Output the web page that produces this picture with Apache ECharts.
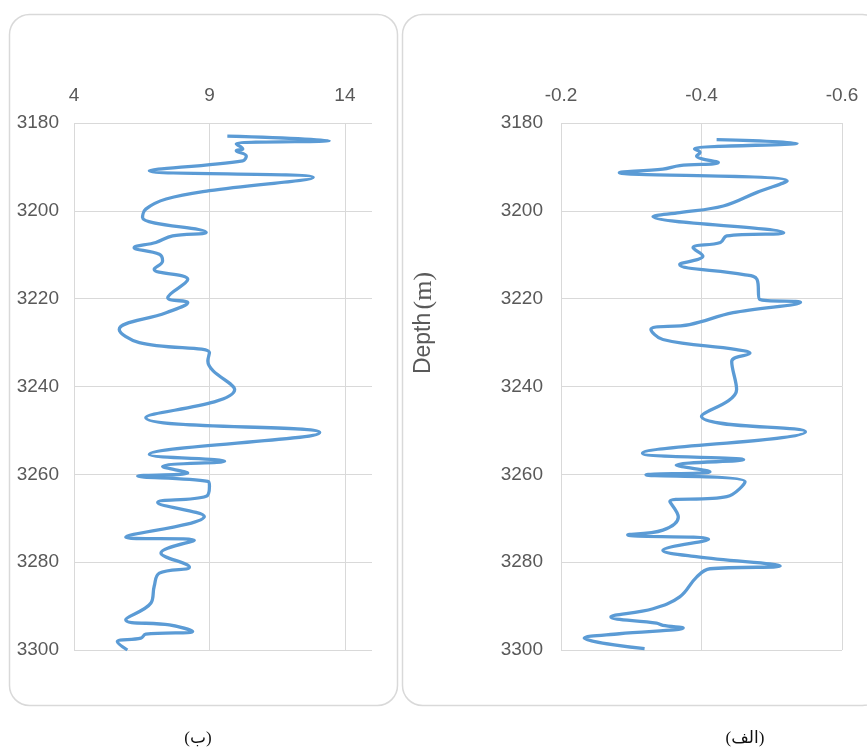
<!DOCTYPE html>
<html>
<head>
<meta charset="utf-8">
<script src="https://cdn.jsdelivr.net/npm/echarts@6/dist/echarts.min.js"></script>
<style>
html,body{margin:0;padding:0;background:#fff;}
#chart{width:867px;height:751px;}
</style>
</head>
<body>
<div id="chart"></div>
<script>
// Panel (ب) — left
var depthB = [3183.0,3184.0,3184.8,3185.9,3186.3,3187.5,3188.6,3190.9,3192.4,3195.4,3197.3,3199.6,3201.5,3204.9,3205.7,3207.2,3208.4,3209.9,3211.4,3213.3,3215.6,3219.8,3220.9,3223.2,3227.0,3230.0,3232.3,3234.2,3240.7,3247.1,3250.5,3255.5,3257.0,3258.2,3259.7,3260.4,3261.6,3262.7,3265.0,3266.4,3269.6,3274.3,3275.0,3277.9,3281.1,3282.5,3285.5,3289.3,3293.1,3294.3,3295.8,3296.4,3297.3,3298.1,3300.0];
var valB   = [9.66,13.42,9.99,10.23,9.99,10.36,10.23,6.78,12.83,9.0,7.40,6.65,6.53,8.88,7.64,7.02,6.22,7.15,7.27,6.96,8.20,7.46,8.20,7.40,5.67,6.41,9.0,8.94,9.93,6.65,13.07,6.78,9.56,7.27,8.20,6.35,8.94,9.0,8.88,7.09,8.81,5.91,8.44,7.21,8.26,7.15,6.96,6.84,5.91,7.52,8.38,6.65,6.47,5.60,5.97];

// Panel (الف) — right
var depthA = [3183.8,3184.6,3185.9,3186.7,3187.5,3189.0,3189.7,3190.5,3191.3,3193.2,3195.8,3198.9,3200.4,3201.3,3205.0,3205.7,3207.2,3208.4,3210.3,3212.2,3214.5,3215.6,3220.2,3220.8,3223.2,3225.9,3227.0,3229.3,3231.6,3232.4,3234.3,3240.7,3246.8,3250.3,3255.2,3256.7,3257.9,3259.4,3260.1,3261.7,3265.1,3266.2,3269.7,3272.7,3273.8,3274.8,3277.3,3278.8,3280.9,3281.5,3283.4,3287.9,3290.6,3292.5,3293.9,3294.4,3295.0,3296.3,3297.3,3299.7];
var valA   = [-0.4215,-0.536,-0.390,-0.398,-0.393,-0.424,-0.369,-0.345,-0.283,-0.522,-0.479,-0.431,-0.369,-0.331,-0.517,-0.436,-0.427,-0.388,-0.402,-0.369,-0.460,-0.479,-0.483,-0.541,-0.445,-0.383,-0.328,-0.345,-0.450,-0.469,-0.443,-0.450,-0.400,-0.548,-0.316,-0.460,-0.364,-0.412,-0.321,-0.462,-0.436,-0.355,-0.367,-0.345,-0.295,-0.410,-0.345,-0.395,-0.512,-0.412,-0.393,-0.369,-0.331,-0.271,-0.336,-0.345,-0.374,-0.283,-0.233,-0.319];

var depthTicks = {min: 3180, max: 3300, interval: 20};
var xTicksB = {min: 4, max: 15, interval: 5};
var xTicksA = {min: -0.6, max: -0.2, interval: 0.2};

var axisLabelFont = {color: '#595959', fontFamily: 'Liberation Sans', fontSize: 19};
var gridLine = {show: true, lineStyle: {color: '#d9d9d9', width: 1}};
var lineColor = '#5b9bd5';
function plain(v) { return String(v); }

var chart = echarts.init(document.getElementById('chart'), null, {renderer: 'canvas'});
chart.setOption({
  animation: false,
  backgroundColor: '#ffffff',
  graphic: [
    {type: 'rect', z: -10, shape: {x: 9.5, y: 14.5, width: 388, height: 691, r: 20},
     style: {fill: 'none', stroke: '#d9d9d9', lineWidth: 1.5}},
    {type: 'rect', z: -10, shape: {x: 402.5, y: 14.5, width: 480, height: 691, r: 20},
     style: {fill: 'none', stroke: '#d9d9d9', lineWidth: 1.5}},
    {type: 'text', x: 424, y: 323, rotation: Math.PI / 2,
     style: {text: '{a|Depth} {b|(m)}', textAlign: 'center', textVerticalAlign: 'middle',
       rich: {a: {fontFamily: 'Liberation Sans', fontSize: 23, fill: '#595959', color: '#595959'},
              b: {fontFamily: 'Liberation Serif', fontSize: 26, fill: '#595959', color: '#595959'}}}},
    {type: 'text', x: 198, y: 739,
     style: {text: '(ب)', textAlign: 'center', textVerticalAlign: 'middle',
       font: '17px "Liberation Serif", "DejaVu Serif", "DejaVu Sans"', fill: '#111'}},
    {type: 'text', x: 745, y: 739,
     style: {text: '(الف)', textAlign: 'center', textVerticalAlign: 'middle',
       font: '17px "Liberation Serif", "DejaVu Serif", "DejaVu Sans"', fill: '#111'}}
  ],
  grid: [
    {left: 74, top: 123, width: 298, height: 527},
    {left: 561, top: 123, width: 281, height: 527}
  ],
  xAxis: [
    {gridIndex: 0, type: 'value', position: 'top', min: xTicksB.min, max: xTicksB.max, interval: xTicksB.interval,
     axisLine: {show: false}, axisTick: {show: false},
     axisLabel: Object.assign({margin: 18, showMaxLabel: false,
       formatter: function (v) { return (v - xTicksB.min) % xTicksB.interval === 0 ? String(v) : ''; }}, axisLabelFont),
     splitLine: Object.assign({showMaxLine: false}, gridLine)},
    {gridIndex: 1, type: 'value', position: 'top', inverse: true, min: xTicksA.min, max: xTicksA.max, interval: xTicksA.interval,
     axisLine: {show: false}, axisTick: {show: false},
     axisLabel: Object.assign({margin: 18, formatter: function (v) { return v.toFixed(1); }}, axisLabelFont),
     splitLine: gridLine}
  ],
  yAxis: [
    {gridIndex: 0, type: 'value', inverse: true, min: depthTicks.min, max: depthTicks.max, interval: depthTicks.interval,
     axisLine: {show: false}, axisTick: {show: false},
     axisLabel: Object.assign({margin: 15, formatter: plain}, axisLabelFont), splitLine: gridLine},
    {gridIndex: 1, type: 'value', inverse: true, min: depthTicks.min, max: depthTicks.max, interval: depthTicks.interval,
     axisLine: {show: false}, axisTick: {show: false},
     axisLabel: Object.assign({margin: 18, formatter: plain}, axisLabelFont), splitLine: gridLine}
  ],
  series: [
    {type: 'line', xAxisIndex: 0, yAxisIndex: 0, showSymbol: false, smooth: 0.4,
     lineStyle: {color: lineColor, width: 3.3}, itemStyle: {color: lineColor},
     data: depthB.map(function (d, i) { return [valB[i], d]; })},
    {type: 'line', xAxisIndex: 1, yAxisIndex: 1, showSymbol: false, smooth: 0.4,
     lineStyle: {color: lineColor, width: 3.3}, itemStyle: {color: lineColor},
     data: depthA.map(function (d, i) { return [valA[i], d]; })}
  ]
});
</script>
</body>
</html>
